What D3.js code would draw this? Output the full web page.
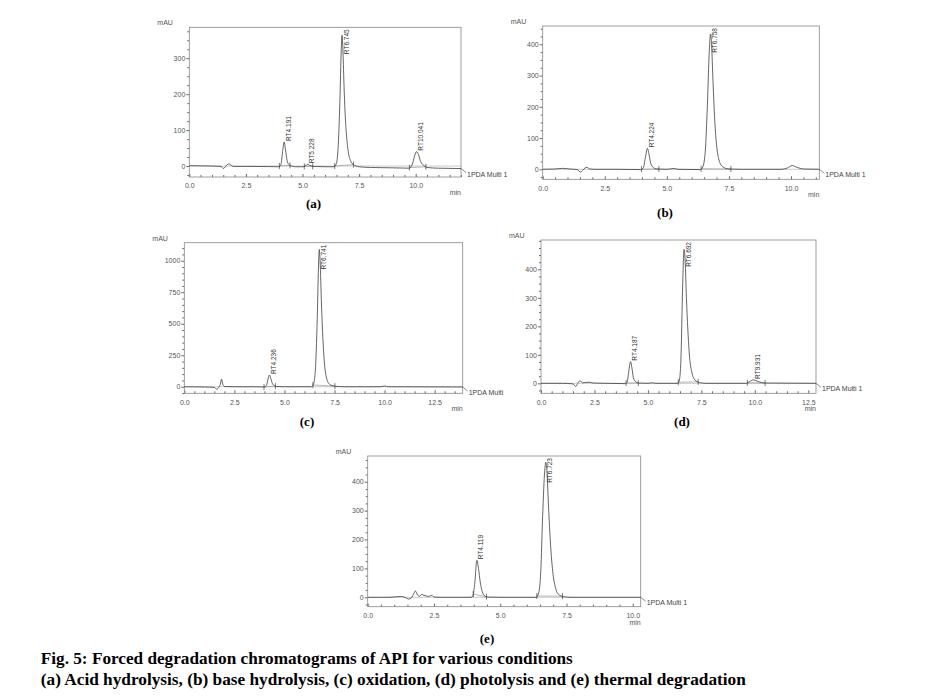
<!DOCTYPE html>
<html><head><meta charset="utf-8">
<script src="https://cdn.jsdelivr.net/npm/d3@7"></script>
<style>body{margin:0;background:#fff} svg{display:block}</style>
</head><body><svg id="c" width="936" height="699"></svg>
<script>
// ---------- DATA ----------
const panelIds = ["(a)", "(b)", "(c)", "(d)", "(e)"];
const xMax = [12.0, 11.14, 13.9, 12.86, 10.3];
const yMin = [-30.5, -32, -52, -35, -32.5];
const yMax = [386, 458.6, 1143, 503, 489];
const yMajorTicks = [[0,100,200,300],[0,100,200,300,400],[0,250,500,750,1000],[0,100,200,300,400],[0,100,200,300,400]];
const yMinorStep = [25, 25, 50, 25, 25];
const xMajorTicks = [[0,2.5,5,7.5,10],[0,2.5,5,7.5,10],[0,2.5,5,7.5,10,12.5],[0,2.5,5,7.5,10,12.5],[0,2.5,5,7.5,10]];
const xMinorStep = 0.5;

// chromatogram traces [time (min), mAU]
const traceA = [[0,1],[0.5,0.5],[1.0,0],[1.4,-1],[1.5,-7],[1.58,-3],[1.68,4],[1.76,6],[1.85,2],[1.95,-1],[2.5,-1],[3.5,-1.5],[3.95,-2],[4.05,5],[4.12,40],[4.19,67],[4.25,45],[4.32,15],[4.4,4],[4.5,0],[4.7,-2],[5.05,-2],[5.15,2],[5.23,5],[5.32,2],[5.45,-1],[6.0,-2],[6.4,-2],[6.5,8],[6.58,60],[6.65,180],[6.71,320],[6.745,364],[6.78,330],[6.83,230],[6.88,150],[6.95,80],[7.02,40],[7.12,15],[7.25,4],[7.5,-2],[8,-4],[9,-5],[9.7,-6],[9.85,5],[9.95,28],[10.04,40],[10.12,32],[10.22,12],[10.35,2],[10.5,-4],[11,-6],[12,-7]];
const traceB = [[0,0],[0.5,1],[0.8,3],[1.1,1],[1.4,-1],[1.52,-9],[1.6,-4],[1.7,4],[1.78,6],[1.9,1],[2.1,0],[3.0,0],[3.95,-1],[4.05,4],[4.13,35],[4.22,67],[4.28,48],[4.35,20],[4.45,6],[4.6,1],[5.0,0],[5.2,2],[5.3,2.5],[5.45,0],[6.35,-1],[6.45,8],[6.55,60],[6.63,200],[6.71,380],[6.76,433],[6.8,400],[6.86,280],[6.92,170],[7.0,80],[7.1,30],[7.25,8],[7.5,1],[8,0],[9.6,0],[9.85,4],[10.05,12],[10.25,6],[10.5,1],[11.14,0]];
const traceC = [[0,0],[1.0,-2],[1.5,-5],[1.62,-20],[1.72,-5],[1.8,20],[1.86,60],[1.92,20],[2.0,2],[2.5,0],[3.5,0],[4.0,-2],[4.1,10],[4.18,60],[4.25,93],[4.32,65],[4.4,25],[4.5,8],[4.6,2],[5.0,0],[6.35,0],[6.45,20],[6.55,150],[6.63,500],[6.7,950],[6.74,1090],[6.78,1000],[6.85,650],[6.92,380],[7.0,180],[7.1,70],[7.25,20],[7.5,5],[8.0,0],[9.8,0],[10.0,6],[10.2,0],[13.9,-2]];
const traceD = [[0,0],[1.0,0],[1.5,-2],[1.62,-11],[1.72,0],[1.82,9],[1.95,2],[2.1,3],[2.25,4],[2.45,1],[3,0],[3.95,-1],[4.03,5],[4.1,40],[4.19,76],[4.25,55],[4.32,20],[4.42,6],[4.55,1],[5.0,0],[5.2,2],[5.35,0],[6.4,0],[6.48,15],[6.55,100],[6.62,330],[6.69,470],[6.74,430],[6.8,300],[6.88,170],[6.95,90],[7.05,40],[7.2,12],[7.4,3],[7.7,0],[9.6,0],[9.75,6],[9.93,12],[10.1,8],[10.3,3],[10.5,1],[12.86,0]];
const traceE = [[0,0],[0.8,0],[1.1,2],[1.25,3],[1.4,0],[1.55,-6],[1.65,-2],[1.75,15],[1.8,22],[1.88,8],[1.95,4],[2.05,10],[2.12,7],[2.2,5],[2.3,3],[2.42,7],[2.5,1],[2.7,0],[3.9,0],[3.97,5],[4.03,40],[4.12,128],[4.18,100],[4.25,50],[4.32,20],[4.4,6],[4.5,1],[5,0],[6.35,0],[6.45,15],[6.53,90],[6.6,280],[6.68,440],[6.72,467],[6.76,440],[6.82,320],[6.9,180],[6.98,90],[7.08,35],[7.2,10],[7.4,2],[7.7,0],[10.3,0]];
const traces = [traceA, traceB, traceC, traceD, traceE];

// labelled peaks: retention time text and apex height (mAU)
const peaksA = [{rt:"4.191",h:67},{rt:"5.228",h:5},{rt:"6.745",h:364},{rt:"10.041",h:40}];
const peaksB = [{rt:"4.224",h:67},{rt:"6.758",h:433}];
const peaksC = [{rt:"4.236",h:93},{rt:"6.741",h:1090}];
const peaksD = [{rt:"4.187",h:76},{rt:"6.692",h:470},{rt:"9.931",h:12}];
const peaksE = [{rt:"4.119",h:128},{rt:"6.723",h:467}];
const peaks = [peaksA, peaksB, peaksC, peaksD, peaksE];

// integration start/end marks (min)
const marksA = [[3.98,4.45],[5.08,5.45],[6.42,7.25],[9.72,10.45]];
const marksB = [[3.98,4.68],[6.38,7.58]];
const marksC = [[3.98,4.55],[6.42,7.52]];
const marksD = [[3.98,4.55],[6.42,7.35],[9.65,10.48]];
const marksE = [[3.98,4.48],[6.38,7.35]];
const marks = [marksA, marksB, marksC, marksD, marksE];

const channelLabels = ["1PDA Multi 1","1PDA Multi 1","1PDA Multi","1PDA Multi 1","1PDA Multi 1"];
const yUnit = "mAU", xUnit = "min";
const captionLines = [
  "Fig. 5: Forced degradation chromatograms of API for various conditions",
  "(a) Acid hydrolysis, (b) base hydrolysis, (c) oxidation, (d) photolysis and (e) thermal degradation"
];

// ---------- LAYOUT ----------
const boxes = [[189.3,27.3,461,177],[542.7,26,819.3,179.3],[184.3,242.7,462.7,393.3],[541,240,816,393.3],[367.7,456,640.7,606.7]];
const panelLabelPos = [[313.5,207.5],[665,217],[307,426],[682,426],[487,643]];
const captionPos = [[40.8,663.5,532],[40.8,685,705]];

const svg = d3.select("#c");
const tickFont = "Liberation Sans, Arial, sans-serif";

function interp(tr, t){
  for(let i=1;i<tr.length;i++){
    if(t<=tr[i][0]){const a=tr[i-1],b=tr[i];const f=(t-a[0])/(b[0]-a[0]);return a[1]+f*(b[1]-a[1]);}
  }
  return tr[tr.length-1][1];
}

panelIds.forEach((pid,i)=>{
  const [x0,y0,x1,y1] = boxes[i];
  const x = d3.scaleLinear().domain([0,xMax[i]]).range([x0,x1]);
  const y = d3.scaleLinear().domain([yMin[i],yMax[i]]).range([y1,y0]);
  const g = svg.append("g");

  g.append("line").attr("x1",x0).attr("x2",x1).attr("y1",y(0)).attr("y2",y(0))
    .attr("stroke","#b5b5b5").attr("stroke-width",0.7);

  const yMinor = d3.range(Math.ceil(yMin[i]/yMinorStep[i])*yMinorStep[i], yMax[i], yMinorStep[i])
    .filter(v=>!yMajorTicks[i].includes(v));
  g.append("g").attr("transform",`translate(${x0},0)`)
    .call(d3.axisLeft(y).tickValues(yMinor).tickSize(2).tickFormat(""))
    .call(a=>a.select(".domain").remove()).call(a=>a.selectAll("line").attr("stroke","#666"));
  g.append("g").attr("transform",`translate(${x0},0)`)
    .call(d3.axisLeft(y).tickValues(yMajorTicks[i]).tickSize(3).tickPadding(1).tickFormat(d3.format("d")))
    .call(a=>a.select(".domain").remove())
    .call(a=>a.selectAll("line").attr("stroke","#666"))
    .call(a=>a.selectAll("text").attr("font-family",tickFont).attr("font-size",7).attr("fill","#555"));
  const xMinor = d3.range(0, xMax[i]+1e-9, xMinorStep).filter(v=>!xMajorTicks[i].includes(v));
  g.append("g").attr("transform",`translate(0,${y1})`)
    .call(d3.axisBottom(x).tickValues(xMinor).tickSize(-2).tickFormat(""))
    .call(a=>a.select(".domain").remove()).call(a=>a.selectAll("line").attr("stroke","#666"));
  g.append("g").attr("transform",`translate(0,${y1})`)
    .call(d3.axisBottom(x).tickValues(xMajorTicks[i]).tickSize(-3).tickPadding(6.5).tickFormat(d3.format(".1f")))
    .call(a=>a.select(".domain").remove())
    .call(a=>a.selectAll("line").attr("stroke","#666"))
    .call(a=>a.selectAll("text").attr("font-family",tickFont).attr("font-size",7).attr("fill","#555"));

  g.append("rect").attr("x",x0).attr("y",y0).attr("width",x1-x0).attr("height",y1-y0)
    .attr("fill","none").attr("stroke","#888").attr("stroke-width",0.8);

  const tr = traces[i];
  marks[i].forEach(([s,e])=>{
    g.append("line").attr("x1",x(s)).attr("x2",x(e)).attr("y1",y(interp(tr,s))).attr("y2",y(interp(tr,e)))
      .attr("stroke","#888").attr("stroke-width",0.6);
    [s,e].forEach(t=>{
      const yy=y(interp(tr,t));
      g.append("line").attr("x1",x(t)).attr("x2",x(t)).attr("y1",yy-3).attr("y2",yy+3)
        .attr("stroke","#444").attr("stroke-width",0.7);
    });
  });

  const line = d3.line().x(d=>x(d[0])).y(d=>y(d[1])).curve(d3.curveMonotoneX);
  g.append("path").datum(tr).attr("d",line).attr("fill","none").attr("stroke","#333").attr("stroke-width",0.75);

  const ye = y(tr[tr.length-1][1]);
  g.append("line").attr("x1",x1).attr("x2",x1+5).attr("y1",ye).attr("y2",ye+4).attr("stroke","#444").attr("stroke-width",0.6);
  g.append("text").attr("x",x1+6).attr("y",ye+8).text(channelLabels[i])
    .attr("font-family",tickFont).attr("font-size",7).attr("fill","#444");

  peaks[i].forEach(p=>{
    const t=+p.rt, ax=x(t)+6.5;
    const txt=g.append("text").text("RT"+p.rt).attr("font-family",tickFont).attr("font-size",6.5).attr("fill","#333");
    const len=txt.node().getComputedTextLength();
    const ay=Math.max(y(p.h)-1, y0+2+len);
    txt.attr("transform",`translate(${ax},${ay}) rotate(-90)`);
  });

  g.append("text").attr("x",x0-32).attr("y",y0-2).text(yUnit)
    .attr("font-family",tickFont).attr("font-size",7).attr("fill","#555");
  g.append("text").attr("x",x1).attr("y",y1+18).attr("text-anchor","end").text(xUnit)
    .attr("font-family",tickFont).attr("font-size",7).attr("fill","#555");

  g.append("text").attr("x",panelLabelPos[i][0]).attr("y",panelLabelPos[i][1]).attr("text-anchor","middle")
    .text(pid).attr("font-family","Liberation Serif, Times New Roman, serif").attr("font-weight","bold").attr("font-size",13);
});

captionLines.forEach((c,k)=>{
  svg.append("text").attr("x",captionPos[k][0]).attr("y",captionPos[k][1]).text(c)
    .attr("font-family","Liberation Serif, Times New Roman, serif").attr("font-weight","bold").attr("font-size",16.5)
    .attr("textLength",captionPos[k][2]).attr("lengthAdjust","spacingAndGlyphs");
});
</script></body></html>
